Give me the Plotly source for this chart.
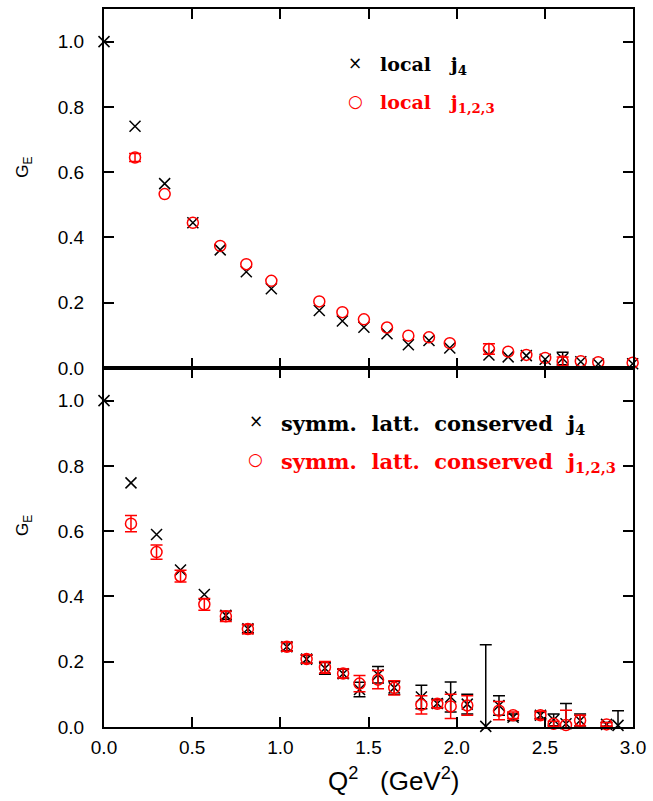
"""G_E(Q^2): local vs symm. latt. conserved currents (Plotly)."""
import numpy as np
import plotly.graph_objects as go
from plotly.subplots import make_subplots

# ---- top panel: local currents ----
q_top_j4 = [0.0, 0.176, 0.344, 0.504, 0.659, 0.807, 0.949, 1.221, 1.352, 1.474, 1.605,
            1.726, 1.843, 1.961, 2.183, 2.292, 2.395, 2.502, 2.601, 2.704, 2.803, 2.998]
ge_top_j4 = [1.0, 0.741, 0.565, 0.445, 0.362, 0.295, 0.243, 0.176, 0.144, 0.125, 0.105,
             0.071, 0.084, 0.061, 0.040, 0.034, 0.038, 0.027, 0.029, 0.019, 0.012, 0.013]
err_top_j4 = [0, 0, 0, 0, 0, 0, 0, 0, 0, 0, 0,
              0, 0, 0, 0, 0, 0, 0, 0.019, 0, 0, 0]

q_top_j123 = [0.176, 0.344, 0.504, 0.659, 0.807, 0.949, 1.221, 1.352, 1.474, 1.605,
              1.726, 1.843, 1.961, 2.183, 2.292, 2.395, 2.502, 2.601, 2.704, 2.803, 2.998]
ge_top_j123 = [0.645, 0.533, 0.445, 0.374, 0.318, 0.267, 0.204, 0.171, 0.149, 0.124,
               0.099, 0.094, 0.076, 0.058, 0.050, 0.040, 0.031, 0.020, 0.021, 0.018, 0.016]
err_top_j123 = [0.012, 0, 0, 0, 0, 0, 0, 0, 0, 0,
                0, 0, 0, 0.016, 0, 0, 0, 0.014, 0, 0, 0]

# ---- bottom panel: symmetric lattice conserved currents ----
q_bot_j4 = [0.0, 0.153, 0.298, 0.434, 0.569, 0.691, 0.816, 1.037, 1.149, 1.253, 1.356,
            1.449, 1.554, 1.646, 1.800, 1.890, 1.966, 2.060, 2.165, 2.240, 2.320, 2.475,
            2.550, 2.620, 2.700, 2.850, 2.915]
ge_bot_j4 = [1.0, 0.748, 0.590, 0.481, 0.406, 0.342, 0.301, 0.246, 0.208, 0.180, 0.163,
             0.115, 0.160, 0.120, 0.092, 0.072, 0.092, 0.070, 0.002, 0.066, 0.030, 0.036,
             0.022, 0.010, 0.020, 0.008, 0.005]
err_bot_j4 = [0, 0, 0, 0, 0, 0.012, 0.012, 0.012, 0.012, 0.018, 0.014,
              0.022, 0.025, 0.020, 0.036, 0.012, 0.046, 0.030, 0.250, 0.030, 0.010, 0.010,
              0.018, 0.062, 0.020, 0.006, 0.045]

q_bot_j123 = [0.153, 0.298, 0.434, 0.569, 0.691, 0.816, 1.037, 1.149, 1.253, 1.356,
              1.449, 1.554, 1.646, 1.800, 1.890, 1.966, 2.060, 2.240, 2.320, 2.475,
              2.550, 2.620, 2.700, 2.850]
ge_bot_j123 = [0.623, 0.536, 0.462, 0.376, 0.339, 0.300, 0.246, 0.208, 0.183, 0.164,
               0.133, 0.145, 0.120, 0.068, 0.071, 0.063, 0.066, 0.050, 0.036, 0.036,
               0.010, 0.006, 0.020, 0.008]
err_bot_j123 = [0.025, 0.022, 0.018, 0.018, 0.016, 0.014, 0.014, 0.013, 0.018, 0.014,
                0.025, 0.028, 0.022, 0.028, 0.012, 0.037, 0.030, 0.028, 0.010, 0.012,
                0.008, 0.045, 0.016, 0.006]

x_ticks = [0.0, 0.5, 1.0, 1.5, 2.0, 2.5, 3.0]
y_ticks = [0.0, 0.2, 0.4, 0.6, 0.8, 1.0]

RED = "#ff0000"
SANS = "Liberation Sans, Arial, sans-serif"
SERIF = "DejaVu Serif, serif"
NB = "\u00a0"

fig = make_subplots(rows=2, cols=1, shared_xaxes=True, vertical_spacing=0)


def add_series(q, ge, err, row, color, symbol):
    q, ge, err = np.asarray(q), np.asarray(ge), np.asarray(err)
    m = err > 0
    # error bars only where they are visible
    fig.add_trace(go.Scatter(
        x=q[m], y=ge[m], mode="markers", marker=dict(size=1, opacity=0),
        error_y=dict(type="data", array=err[m], color=color, thickness=1.5, width=6),
        showlegend=False, hoverinfo="skip"), row=row, col=1)
    fig.add_trace(go.Scatter(
        x=q, y=ge, mode="markers", showlegend=False, cliponaxis=False,
        marker=dict(symbol=symbol, size=11, color=color,
                    line=dict(color=color, width=1.5))), row=row, col=1)


add_series(q_top_j4, ge_top_j4, err_top_j4, 1, "black", "x-thin-open")
add_series(q_top_j123, ge_top_j123, err_top_j123, 1, RED, "circle-open")
add_series(q_bot_j4, ge_bot_j4, err_bot_j4, 2, "black", "x-thin-open")
add_series(q_bot_j123, ge_bot_j123, err_bot_j123, 2, RED, "circle-open")

axis_common = dict(showline=True, linecolor="black", linewidth=2, mirror="ticks",
                   ticks="inside", ticklen=10, tickwidth=1.5, tickcolor="black",
                   showgrid=False, zeroline=False,
                   tickfont=dict(family=SANS, size=19, color="black"))
fig.update_xaxes(range=[0, 3], tickvals=x_ticks, tickformat=".1f", **axis_common)
fig.update_xaxes(showticklabels=False, row=1, col=1)
fig.update_xaxes(ticklabelstandoff=2, row=2, col=1)
fig.update_yaxes(range=[0, 1.1], tickvals=y_ticks, tickformat=".1f",
                 ticklabelstandoff=14, **axis_common)

ann = []
# y titles
for yp in (0.779, 0.280):
    ann.append(dict(text="G<sub>E</sub>", xref="paper", yref="paper", x=-0.151, y=yp,
                    xanchor="center", yanchor="middle",
                    textangle=-90, showarrow=False,
                    font=dict(family=SANS, size=17, color="black")))
# x title
ann.append(dict(text=f"Q<sup>2</sup>{NB*3}(GeV<sup>2</sup>)", xref="paper", yref="paper",
                x=0.549, y=-0.073, xanchor="center", yanchor="middle", showarrow=False,
                font=dict(family=SANS, size=26, color="black")))

# legends
g2, g3 = NB * 2, NB * 3
legend_rows = [
    (0.4753, 0.925, 0.5174, "×", "black", f"local{g3}j<sub>4</sub>", 19),
    (0.4753, 0.872, 0.5174, "○", RED, f"local{g3}j<sub>1,2,3</sub>", 19),
    (0.287, 0.426, 0.330, "×", "black",
     f"symm.{g2}latt.{g2}conserved{g2}j<sub>4</sub>", 21),
    (0.287, 0.373, 0.330, "○", RED,
     f"symm.{g2}latt.{g2}conserved{g2}j<sub>1,2,3</sub>", 21),
]
for xs, ys, xt, sym, col, label, fs in legend_rows:
    ann.append(dict(text=sym, xref="paper", yref="paper", x=xs, y=ys, showarrow=False,
                    xanchor="center", yanchor="middle",
                    font=dict(family="DejaVu Sans", size=17, color=col)))
    ann.append(dict(text=f"<b>{label}</b>", xref="paper", yref="paper", x=xt, y=ys - 0.004,
                    showarrow=False, xanchor="left", yanchor="middle",
                    font=dict(family=SERIF, size=fs, color=col)))

fig.update_layout(width=653, height=801, template="plotly_white",
                  plot_bgcolor="white", paper_bgcolor="white",
                  margin=dict(l=104, r=15, t=7, b=74), annotations=ann)

fig.write_html("out.html", config={"displayModeBar": False},
               post_script="document.body.style.margin = '0';")
